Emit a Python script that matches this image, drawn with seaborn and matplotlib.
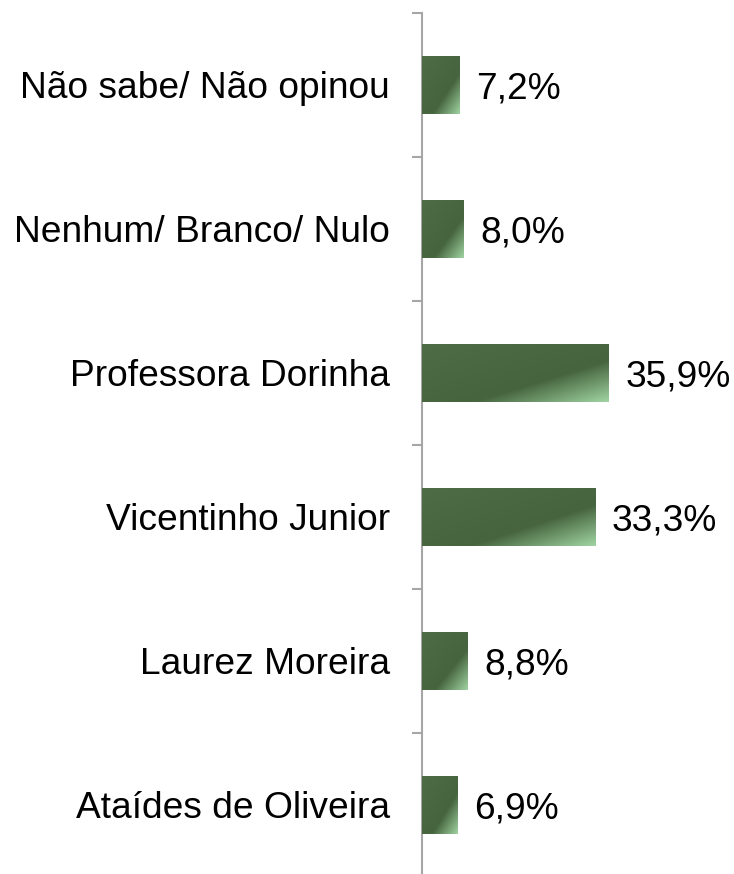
import numpy as np
import pandas as pd
import seaborn as sns
import matplotlib.pyplot as plt
from matplotlib.colors import LinearSegmentedColormap

candidatos = ['Não sabe/ Não opinou', 'Nenhum/ Branco/ Nulo', 'Professora Dorinha',
              'Vicentinho Junior', 'Laurez Moreira', 'Ataídes de Oliveira']
percentuais = [7.2, 8.0, 35.9, 33.3, 8.8, 6.9]
rotulos = ['7,2%', '8,0%', '35,9%', '33,3%', '8,8%', '6,9%']

df = pd.DataFrame({'candidato': candidatos, 'pct': percentuais})

sns.set_style('white')
plt.rcParams['font.family'] = ['Liberation Sans', 'DejaVu Sans']

fig = plt.figure(figsize=(7.34, 8.74), dpi=100)
ax = fig.add_axes([422 / 734, -3 / 874, 312 / 734, 864 / 874])

sns.barplot(data=df, y='candidato', x='pct', orient='h', color='#4a6741',
            width=0.4, ax=ax)

ax.set_xlim(0, 60)
ax.set_ylim(5.5, -0.5)

# gradiente escuro -> claro no canto inferior direito de cada barra
cmap = LinearSegmentedColormap.from_list(
    'verde', [(0, '#4e6d46'), (0.64, '#46643e'), (1, '#9fd3a1')])
u = np.linspace(0, 1, 200)
v = np.linspace(0, 1, 60)
U, V = np.meshgrid(u, v)
grad = (U + V) / 2
for p in ax.patches:
    p.set_edgecolor('none')
    x0, y0 = p.get_x(), p.get_y()
    w, h = p.get_width(), p.get_height()
    im = ax.imshow(grad, cmap=cmap, vmin=0, vmax=1, origin='upper', aspect='auto',
                   extent=(x0, x0 + w, y0 + h, y0), zorder=3, interpolation='bilinear')
    im.set_clip_path(p)

ax.set_xlim(0, 60)
ax.set_ylim(5.5, -0.5)

txts = ax.bar_label(ax.containers[0], labels=rotulos, padding=12, fontsize=26.7, color='black')
for t in txts:
    t.xyann = (12, -3)

ax.set_xlabel('')
ax.set_ylabel('')
ax.set_xticks([])
ax.tick_params(axis='y', which='major', left=False, length=0, pad=23,
               labelsize=26.7, labelcolor='black')
ax.set_yticks(np.arange(-0.5, 6.0, 1.0), minor=True)
ax.tick_params(axis='y', which='minor', left=True, length=7.5, width=1.5,
               color='#a6a6a6', direction='out')

for s in ['top', 'right', 'bottom']:
    ax.spines[s].set_visible(False)
ax.spines['left'].set_color('#a6a6a6')
ax.spines['left'].set_linewidth(1.5)

fig.savefig('out.png', dpi=100)
